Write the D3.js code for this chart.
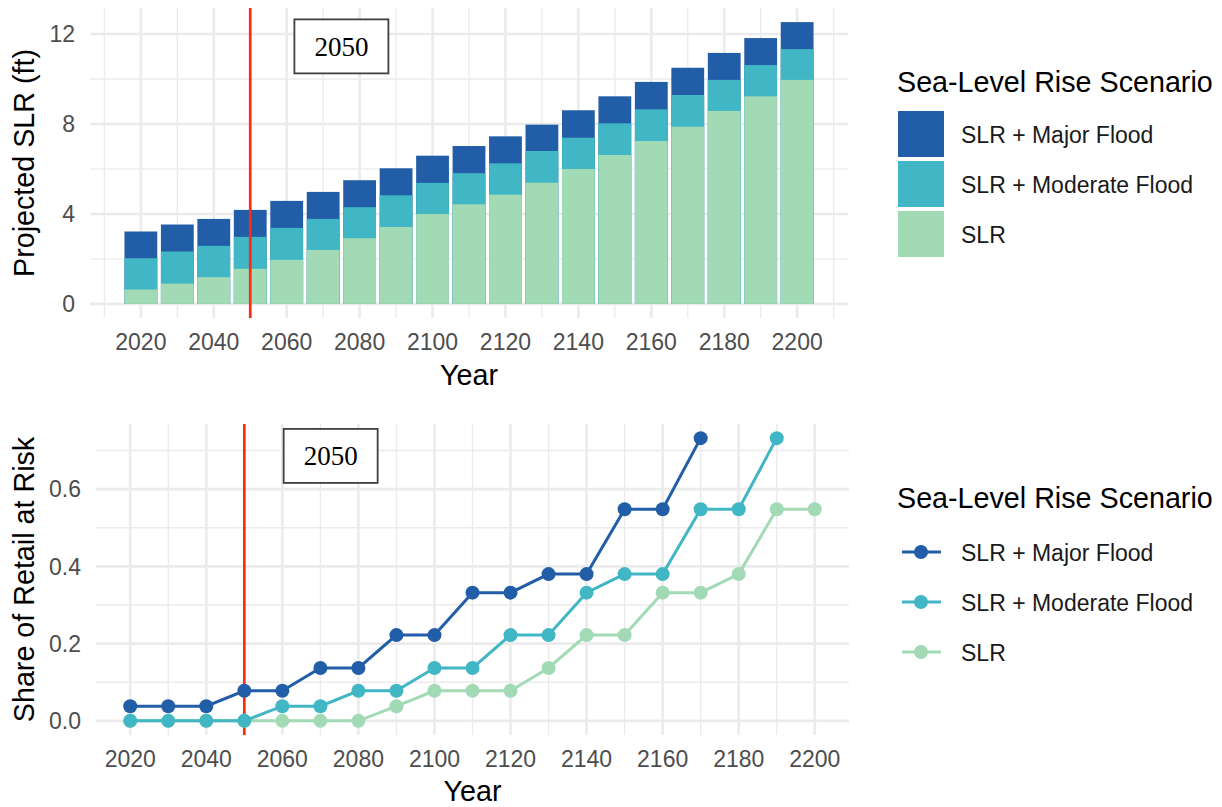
<!DOCTYPE html>
<html>
<head>
<meta charset="utf-8">
<script src="https://cdn.jsdelivr.net/npm/d3@7"></script>
<style>
  body { margin: 0; background: #ffffff; }
  svg { display: block; font-family: "Liberation Sans", Arial, sans-serif; }
</style>
</head>
<body>
<svg id="chart" width="1222" height="807"></svg>
<script>
// ---- data ----
const years = [2020, 2030, 2040, 2050, 2060, 2070, 2080, 2090, 2100, 2110,
               2120, 2130, 2140, 2150, 2160, 2170, 2180, 2190, 2200];

// projected sea-level rise (ft), each scenario drawn from zero
const slrFt      = [0.64, 0.90, 1.19, 1.56, 1.96, 2.40, 2.92, 3.42, 4.00, 4.43,
                    4.86, 5.39, 6.00, 6.62, 7.24, 7.88, 8.58, 9.23, 9.96];
const moderateFt = [2.03, 2.33, 2.58, 2.98, 3.38, 3.78, 4.30, 4.83, 5.38, 5.81,
                    6.25, 6.80, 7.39, 8.03, 8.65, 9.29, 9.96, 10.62, 11.33];
const majorFt    = [3.22, 3.53, 3.78, 4.18, 4.58, 4.98, 5.50, 6.03, 6.59, 7.02,
                    7.45, 7.97, 8.61, 9.23, 9.87, 10.50, 11.16, 11.82, 12.53];

// share of retail at risk (null = no point)
const slrRisk      = [0, 0, 0, 0, 0, 0, 0, 0.038, 0.078, 0.078,
                      0.078, 0.137, 0.222, 0.222, 0.332, 0.332, 0.38, 0.548, 0.548];
const moderateRisk = [0, 0, 0, 0, 0.038, 0.038, 0.078, 0.078, 0.137, 0.137,
                      0.222, 0.222, 0.332, 0.38, 0.38, 0.548, 0.548, 0.732, null];
const majorRisk    = [0.038, 0.038, 0.038, 0.078, 0.078, 0.137, 0.137, 0.222, 0.222, 0.332,
                      0.332, 0.38, 0.38, 0.548, 0.548, 0.732, null, null, null];

const scenarios = ["SLR + Major Flood", "SLR + Moderate Flood", "SLR"];
const colors = ["#225ea8", "#41b6c4", "#a1dab4"];

const markerYear = 2050;
const annoLabel = "2050";
const annoTop = [2075, 11.45];      // box centre, top panel (year, ft)
const annoBottom = [2072.7, 0.686]; // box centre, bottom panel (year, share)

const xTicksTop = d3.range(2020, 2201, 20);
const xMinorTop = d3.range(2010, 2211, 20);
const yTicksTop = [0, 4, 8, 12];
const yMinorTop = [2, 6, 10];
const xTicksBottom = d3.range(2020, 2201, 20);
const xMinorBottom = d3.range(2030, 2191, 20);
const yTicksBottom = [0, 0.2, 0.4, 0.6];
const yMinorBottom = [0.1, 0.3, 0.5, 0.7];

const svg = d3.select("#chart");
const gridCol = "#ebebeb";
const tickCol = "#4d4d4d";

function expand(lo, hi) {
  const pad = (hi - lo) * 0.05;
  return [lo - pad, hi + pad];
}

function drawGrid(g, x, y, xMaj, xMin, yMaj, yMin) {
  const [x0, x1] = x.range();
  const [y0, y1] = y.range();
  g.selectAll(null).data(yMin).enter().append("line")
    .attr("x1", x0).attr("x2", x1).attr("y1", d => y(d)).attr("y2", d => y(d))
    .attr("stroke", gridCol).attr("stroke-width", 1.3);
  g.selectAll(null).data(xMin).enter().append("line")
    .attr("y1", y0).attr("y2", y1).attr("x1", d => x(d)).attr("x2", d => x(d))
    .attr("stroke", gridCol).attr("stroke-width", 1.3);
  g.selectAll(null).data(yMaj).enter().append("line")
    .attr("x1", x0).attr("x2", x1).attr("y1", d => y(d)).attr("y2", d => y(d))
    .attr("stroke", gridCol).attr("stroke-width", 2.6);
  g.selectAll(null).data(xMaj).enter().append("line")
    .attr("y1", y0).attr("y2", y1).attr("x1", d => x(d)).attr("x2", d => x(d))
    .attr("stroke", gridCol).attr("stroke-width", 2.6);
}

function drawAxes(g, x, y, xMaj, yMaj, yFmt, xLabelY, yLabelX, yTitle, yearBaseline) {
  const [y0, y1] = y.range();
  const [x0, x1] = x.range();
  g.selectAll(null).data(xMaj).enter().append("text")
    .attr("x", d => x(d)).attr("y", xLabelY)
    .attr("text-anchor", "middle")
    .attr("fill", tickCol).style("font-size", "23px")
    .text(d => d);
  g.selectAll(null).data(yMaj).enter().append("text")
    .attr("x", yLabelX).attr("y", d => y(d))
    .attr("dy", "0.36em")
    .attr("text-anchor", "end")
    .attr("fill", tickCol).style("font-size", "23px")
    .text(yFmt);
  g.append("text")
    .attr("transform", `translate(34,${(y0 + y1) / 2}) rotate(-90)`)
    .attr("text-anchor", "middle")
    .attr("fill", "#000").style("font-size", "28.7px")
    .text(yTitle);
  g.append("text")
    .attr("x", (x0 + x1) / 2).attr("y", yearBaseline)
    .attr("text-anchor", "middle")
    .attr("fill", "#000").style("font-size", "28.7px")
    .text("Year");
}

function drawMarker(g, x, y, anno) {
  const [y0, y1] = y.range();
  g.append("line")
    .attr("x1", x(markerYear)).attr("x2", x(markerYear))
    .attr("y1", y0).attr("y2", y1)
    .attr("stroke", "#ff2a12").attr("stroke-width", 2.7);
  const cx = x(anno[0]), cy = y(anno[1]);
  g.append("rect")
    .attr("x", cx - 47).attr("y", cy - 27)
    .attr("width", 94).attr("height", 54)
    .attr("fill", "#fff").attr("stroke", "#404040").attr("stroke-width", 1.8);
  g.append("text")
    .attr("x", cx).attr("y", cy).attr("dy", "0.35em")
    .attr("text-anchor", "middle")
    .style("font-family", "'Liberation Serif', 'Times New Roman', serif")
    .style("font-size", "27px").attr("fill", "#000")
    .text(annoLabel);
}

// ---- top panel: bars ----
const xTop = d3.scaleLinear()
  .domain(expand(d3.min(years) - 4.5, d3.max(years) + 4.5))
  .range([90, 848]);
const yTop = d3.scaleLinear()
  .domain(expand(0, d3.max(majorFt)))
  .range([318, 8]);

const topPanel = svg.append("g");
drawGrid(topPanel, xTop, yTop, xTicksTop, xMinorTop, yTicksTop, yMinorTop);

const barSeries = [majorFt, moderateFt, slrFt];
barSeries.forEach((vals, si) => {
  topPanel.selectAll(null).data(years).enter().append("rect")
    .attr("x", d => xTop(d - 4.5))
    .attr("width", d => xTop(d + 4.5) - xTop(d - 4.5))
    .attr("y", (d, i) => yTop(vals[i]))
    .attr("height", (d, i) => yTop(0) - yTop(vals[i]))
    .attr("fill", colors[si]);
});
drawMarker(topPanel, xTop, yTop, annoTop);
drawAxes(topPanel, xTop, yTop, xTicksTop, yTicksTop, d => d, 350, 75, "Projected SLR (ft)", 385);

// legend (fill keys)
const legTop = svg.append("g");
legTop.append("text")
  .attr("x", 897).attr("y", 92)
  .style("font-size", "28.7px").attr("fill", "#000")
  .text("Sea-Level Rise Scenario");
scenarios.forEach((s, i) => {
  legTop.append("rect")
    .attr("x", 898).attr("y", 111 + i * 50)
    .attr("width", 46).attr("height", 46)
    .attr("fill", colors[i]);
  legTop.append("text")
    .attr("x", 961).attr("y", 135 + i * 50).attr("dy", "0.35em")
    .style("font-size", "23px").attr("fill", "#1a1a1a")
    .text(s);
});

// ---- bottom panel: lines + points ----
const xBot = d3.scaleLinear()
  .domain(expand(d3.min(years), d3.max(years)))
  .range([96, 849]);
const yBot = d3.scaleLinear()
  .domain(expand(0, d3.max(majorRisk)))
  .range([735, 424]);

const botPanel = svg.append("g");
drawGrid(botPanel, xBot, yBot, xTicksBottom, xMinorBottom, yTicksBottom, yMinorBottom);
drawMarker(botPanel, xBot, yBot, annoBottom);

const line = d3.line()
  .defined(d => d[1] !== null)
  .x(d => xBot(d[0]))
  .y(d => yBot(d[1]));

const lineSeries = [slrRisk, moderateRisk, majorRisk];
const lineColors = [colors[2], colors[1], colors[0]];
lineSeries.forEach((vals, si) => {
  const pts = years.map((yr, i) => [yr, vals[i]]);
  botPanel.append("path")
    .attr("d", line(pts))
    .attr("fill", "none")
    .attr("stroke", lineColors[si])
    .attr("stroke-width", 3);
  botPanel.selectAll(null).data(pts.filter(p => p[1] !== null)).enter().append("circle")
    .attr("cx", d => xBot(d[0]))
    .attr("cy", d => yBot(d[1]))
    .attr("r", 7)
    .attr("fill", lineColors[si]);
});
drawAxes(botPanel, xBot, yBot, xTicksBottom, yTicksBottom, d3.format(".1f"), 767, 81, "Share of Retail at Risk", 801);

// legend (line keys)
const legBot = svg.append("g");
legBot.append("text")
  .attr("x", 897).attr("y", 508)
  .style("font-size", "28.7px").attr("fill", "#000")
  .text("Sea-Level Rise Scenario");
scenarios.forEach((s, i) => {
  const cy = 552 + i * 50;
  legBot.append("line")
    .attr("x1", 902).attr("x2", 941).attr("y1", cy).attr("y2", cy)
    .attr("stroke", colors[i]).attr("stroke-width", 3);
  legBot.append("circle")
    .attr("cx", 921).attr("cy", cy).attr("r", 7)
    .attr("fill", colors[i]);
  legBot.append("text")
    .attr("x", 961).attr("y", cy + 1).attr("dy", "0.35em")
    .style("font-size", "23px").attr("fill", "#1a1a1a")
    .text(s);
});
</script>
</body>
</html>
